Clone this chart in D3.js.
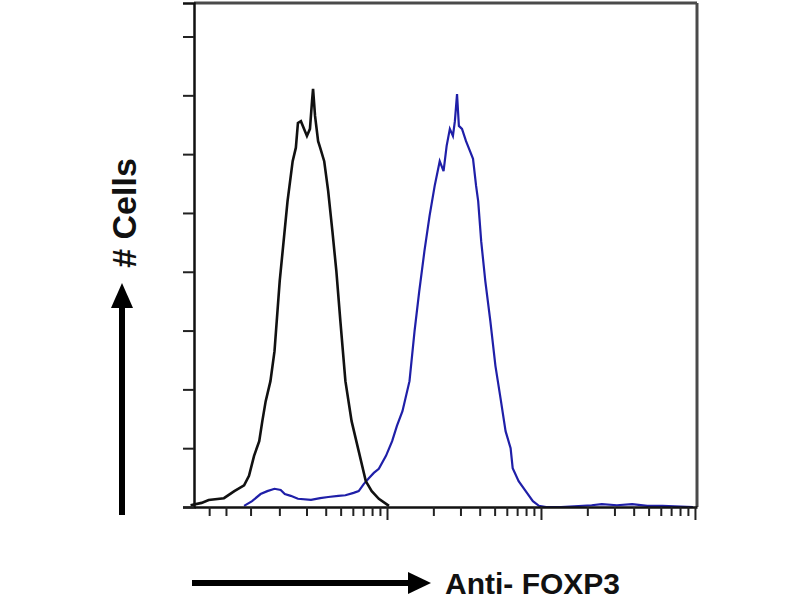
<!DOCTYPE html>
<html><head><meta charset="utf-8">
<script src="https://cdn.jsdelivr.net/npm/d3@7/dist/d3.min.js"></script>
<style>body{margin:0;background:#fff}svg{display:block}</style>
</head><body>
<svg id="c" width="800" height="600"></svg>
<script>
// Isotype control histogram (black): fluorescence intensity, cell count
const controlX = [5.3,6.25,6.95,8.73,10.2,11.8,12.7,13.7,14.8,15.5,16.3,17.5,18.6,20.1,22.6,24.4,25.6,26.4,27.6,28.9,30.2,31.6,32.6,33.1,34.1,35.7,36.8,39.1,41.5,44.2,46.9,49.8,53.7,58.9,65.5,72.8,79.6,88.5,103];
const controlY = [0.03,0.07,0.12,0.15,0.27,0.37,0.53,0.87,1.12,1.46,1.80,2.14,2.65,3.84,5.20,5.88,6.11,6.53,6.56,6.43,6.31,6.43,6.90,7.11,6.65,6.22,6.11,5.88,5.37,4.69,4.01,3.16,2.14,1.46,0.95,0.44,0.27,0.14,0.02];
// Anti-FOXP3 histogram (blue)
const foxp3X = [11.8,13.3,15.1,16.7,18.6,20.4,21.7,23.7,26.4,32.1,36.8,41.5,48.3,53.7,60.7,65.5,70.6,76.2,82.1,88.5,98.5,108,116,126,140,151,162,175,189,204,220,233,244,256,268,276,285,293,307,326,346,362,379,391,409,435,469,506,546,589,635,655,716,796,886,970,1080,1350,2133,2483,3112,3908,4909,6152,9700];
const foxp3Y = [0.02,0.10,0.22,0.27,0.31,0.29,0.22,0.19,0.14,0.12,0.15,0.17,0.19,0.20,0.24,0.27,0.39,0.49,0.58,0.65,0.87,1.12,1.38,1.63,2.14,2.99,3.67,4.35,4.95,5.46,5.88,5.71,6.14,6.43,6.31,6.56,7.02,6.48,6.43,6.22,6.05,5.92,5.46,5.20,4.52,3.84,3.16,2.40,1.85,1.29,1.00,0.66,0.44,0.27,0.10,0.02,0.0,0.0,0.03,0.05,0.03,0.05,0.02,0.02,0.0];
const yTicks = [0,1,2,3,4,5,6,7,8];
const xMajorTicks = [100,1000,10000];
const xMinorTicks = [7,9,13,20,30,40,50,60,70,80,90,200,300,400,500,600,700,800,900,2000,3000,4000,5000,6000,7000,8000,9000];
const xLabel = "Anti- FOXP3";
const yLabel = "# Cells";

const svg = d3.select("#c");
const L = 194, R = 697, T = 3, B = 507;
const x = d3.scaleLog().domain([5.58, 10310]).range([L, R]);
const y = d3.scaleLinear().domain([0, 8.57]).range([B, T]);

// frame (top & right)
svg.append("line").attr("x1", L).attr("x2", R).attr("y1", T).attr("y2", T)
  .attr("stroke", "#4a4a4a").attr("stroke-width", 3);
svg.append("line").attr("x1", R).attr("x2", R).attr("y1", T).attr("y2", B)
  .attr("stroke", "#4a4a4a").attr("stroke-width", 3);

// lines
const line = d3.line().x(d => x(d[0])).y(d => y(d[1]));
svg.append("path").datum(foxp3X.map((v, i) => [v, foxp3Y[i]]))
  .attr("d", line).attr("fill", "none").attr("stroke", "#1f1fa8").attr("stroke-width", 2.2);
svg.append("path").datum(controlX.map((v, i) => [v, controlY[i]]))
  .attr("d", line).attr("fill", "none").attr("stroke", "#111").attr("stroke-width", 2.6);

// y axis
const ya = svg.append("g").attr("transform", `translate(${L},0)`)
  .call(d3.axisLeft(y).tickValues(yTicks).tickSize(11).tickFormat(""));
ya.select(".domain").attr("stroke", "#111").attr("stroke-width", 2.5);
ya.selectAll(".tick line").attr("stroke", "#222").attr("stroke-width", 2);

// x axis
const xa = svg.append("g").attr("transform", `translate(0,${B})`)
  .call(d3.axisBottom(x).tickValues(xMinorTicks).tickSize(9).tickFormat("").tickSizeOuter(0));
xa.select(".domain").attr("stroke", "#111").attr("stroke-width", 2.5);
xa.selectAll(".tick line").attr("stroke", "#222").attr("stroke-width", 2);
const xm = svg.append("g").attr("transform", `translate(0,${B})`)
  .call(d3.axisBottom(x).tickValues(xMajorTicks).tickSize(13).tickFormat(""));
xm.select(".domain").remove();
xm.selectAll(".tick line").attr("stroke", "#222").attr("stroke-width", 2);

// arrows
svg.append("rect").attr("x", 119).attr("y", 305).attr("width", 6).attr("height", 210).attr("fill", "#000");
svg.append("path").attr("d", "M111,308 L122,283 L133,308 Z").attr("fill", "#000");
svg.append("rect").attr("x", 192).attr("y", 580).attr("width", 220).attr("height", 6).attr("fill", "#000");
svg.append("path").attr("d", "M408,572 L431,583 L408,594 Z").attr("fill", "#000");

// labels
svg.append("text").attr("x", 445).attr("y", 594)
  .attr("font-family", "'Liberation Sans', Arial, sans-serif").attr("font-weight", "bold")
  .attr("font-size", 30).attr("fill", "#111").text(xLabel);
svg.append("text").attr("transform", "translate(136,213) rotate(-90)").attr("text-anchor", "middle")
  .attr("font-family", "'Liberation Sans', Arial, sans-serif").attr("font-weight", "bold")
  .attr("font-size", 34).attr("fill", "#111").text(yLabel);
</script>
</body></html>
